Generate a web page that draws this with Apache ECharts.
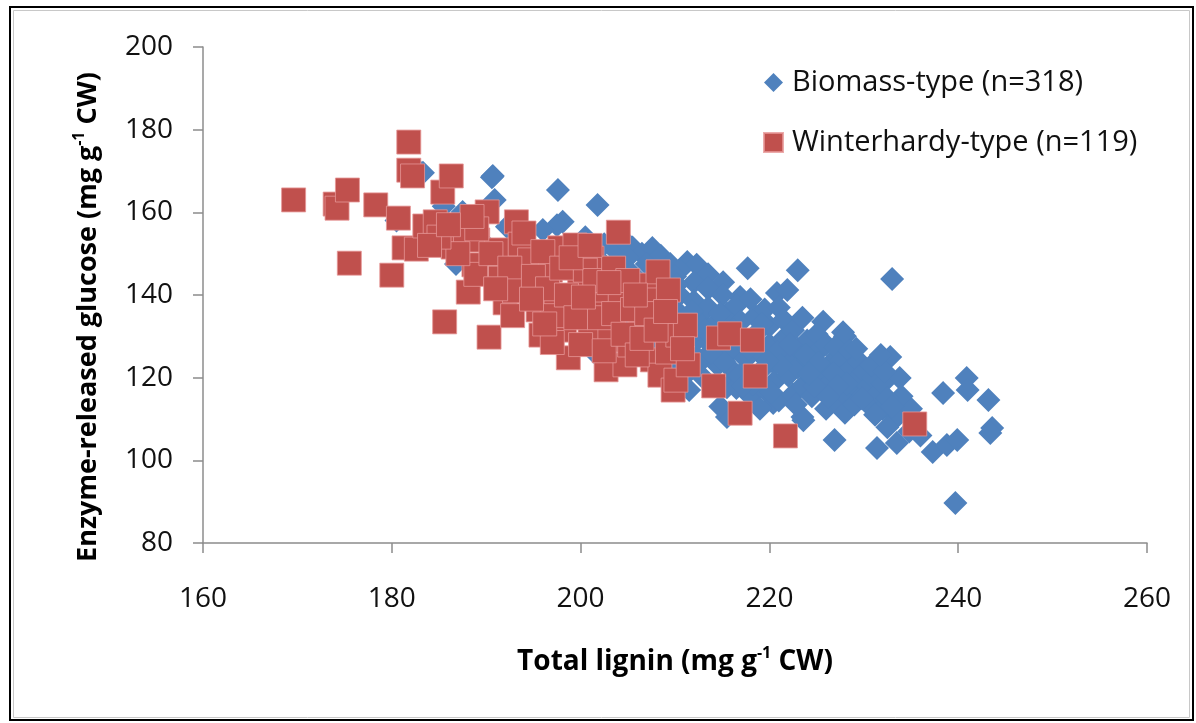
<!DOCTYPE html>
<html>
<head>
<meta charset="utf-8">
<title>Glucose vs lignin</title>
<script src="https://cdn.jsdelivr.net/npm/echarts@6/dist/echarts.min.js"></script>
<style>
  html, body { margin: 0; padding: 0; background: #fff; }
  #chart { width: 1196px; height: 723px; }
</style>
</head>
<body>
<div id="chart"></div>
<script>
// axis ticks
const xTicks = [160, 180, 200, 220, 240, 260]
const yTicks = [80, 100, 120, 140, 160, 180, 200]

const legendNames = ['Biomass-type (n=318)', 'Winterhardy-type (n=119)']

// biomass-type genotypes: [total lignin, released glucose]
const biomass = [
  [182.8, 170.2], [183.3, 169.6], [190.7, 168.8], [190.9, 163.0], [187.5, 160.1], [188.0, 158.8],
  [197.6, 165.4], [201.8, 161.8], [198.1, 157.7], [197.5, 156.9], [196.0, 155.7], [190.6, 168.5],
  [180.5, 158.0], [185.5, 161.5], [192.2, 156.5], [194.5, 151.5], [189.8, 152.5], [186.8, 147.5],
  [193.5, 146.0], [195.5, 147.5], [199.0, 150.0], [200.5, 154.0], [202.5, 152.3], [203.8, 150.5],
  [204.5, 153.5], [205.5, 151.5], [206.5, 150.0], [207.6, 151.4], [208.5, 149.5], [209.5, 147.5],
  [211.3, 148.0], [212.3, 147.3], [210.5, 146.0], [209.0, 144.0], [213.5, 145.0], [215.1, 143.1],
  [216.9, 139.5], [217.7, 146.5], [220.8, 140.5], [221.9, 141.2], [223.0, 146.0], [233.0, 143.9],
  [225.7, 133.5], [227.8, 131.0], [228.0, 130.0], [232.8, 125.0], [233.8, 119.9], [238.4, 116.3],
  [240.9, 119.9], [241.0, 117.0], [243.2, 114.6], [243.6, 107.8], [243.4, 106.6], [226.9, 104.9],
  [231.4, 103.0], [233.5, 104.2], [237.3, 102.0], [238.8, 103.7], [239.9, 104.9], [239.7, 89.7],
  [223.6, 109.7], [215.5, 110.5], [223.5, 110.5], [220.4, 113.9], [215.5, 117.7], [212.3, 125.0],
  [235.0, 112.5], [234.0, 115.5], [233.5, 110.5], [232.5, 108.0], [234.8, 107.0], [236.0, 106.0],
  // dense band
  [199.5, 146.0], [200.0, 141.0], [200.5, 136.0], [201.0, 131.0], [201.5, 126.0], [202.0, 148.5],
  [202.0, 144.0], [202.5, 139.0], [203.0, 134.0], [203.0, 129.0], [203.5, 124.0], [204.0, 147.0],
  [204.0, 142.5], [204.5, 137.5], [204.5, 132.5], [204.8, 127.5],
  [205.0, 149.0], [205.5, 145.0], [205.5, 140.0], [206.0, 135.0], [206.0, 130.0], [206.5, 125.5],
  [207.0, 147.5], [207.0, 143.0], [207.5, 138.0], [207.5, 133.0], [208.0, 128.0], [208.0, 123.0],
  [208.5, 146.0], [208.5, 141.5], [209.0, 137.0], [209.0, 132.0], [209.5, 127.5], [209.5, 122.5],
  [209.8, 118.0],
  [210.0, 144.5], [210.5, 140.0], [210.5, 135.5], [211.0, 131.0], [211.0, 126.0], [211.5, 121.5],
  [211.5, 117.0], [212.0, 143.0], [212.0, 138.5], [212.5, 134.0], [212.5, 129.5], [213.0, 124.5],
  [213.0, 120.0], [213.5, 141.5], [213.5, 137.0], [214.0, 132.5], [214.0, 127.5], [214.5, 123.0],
  [214.5, 118.5], [214.8, 113.0],
  [215.0, 140.0], [215.5, 135.5], [215.5, 131.0], [216.0, 126.5], [216.0, 122.0], [216.5, 117.5],
  [216.5, 137.5], [217.0, 133.5], [217.0, 129.0], [217.5, 124.5], [217.5, 120.0], [218.0, 115.5],
  [218.0, 139.0], [218.5, 135.0], [218.5, 130.5], [219.0, 126.0], [219.0, 121.5], [219.5, 117.0],
  [219.5, 136.5], [219.0, 112.5],
  [220.0, 132.5], [220.0, 128.0], [220.5, 123.5], [220.5, 119.0], [221.0, 137.0], [221.0, 114.5],
  [221.5, 134.0], [221.5, 129.5], [222.0, 125.0], [222.0, 120.5], [222.5, 116.0], [222.5, 131.5],
  [223.0, 127.0], [223.0, 122.5], [223.5, 118.0], [223.5, 134.5], [224.0, 129.0], [224.0, 124.5],
  [224.5, 120.0], [224.5, 115.5],
  [225.0, 130.5], [225.0, 126.0], [225.5, 121.5], [225.5, 117.0], [226.0, 112.5], [226.0, 128.0],
  [226.5, 123.5], [226.5, 119.0], [227.0, 114.5], [227.0, 127.5], [227.5, 124.0], [227.5, 120.0],
  [228.0, 116.0], [228.0, 111.5], [228.5, 126.5], [228.5, 122.0], [229.0, 118.0], [229.0, 113.5],
  [229.5, 124.0], [229.5, 120.0],
  [230.0, 116.0], [230.0, 121.5], [230.5, 118.0], [230.5, 113.5], [231.0, 120.0], [231.5, 116.5],
  [232.0, 112.5], [232.0, 118.5], [232.5, 115.0], [233.0, 113.0],
  [210.2, 142.5], [211.8, 136.0], [213.2, 131.5], [214.8, 135.5], [216.2, 131.5], [217.8, 127.0],
  [219.2, 133.0], [220.8, 126.0], [222.2, 128.0], [223.8, 125.5], [225.2, 123.5], [226.8, 121.0],
  [228.2, 118.5], [229.8, 115.0], [231.2, 111.0], [224.8, 118.0], [222.8, 113.5], [220.2, 116.5],
  [218.2, 118.5], [216.8, 120.5], [215.2, 124.0], [213.8, 126.0], [212.2, 123.0], [210.8, 124.0],
  [211.2, 129.0], [208.8, 130.5], [207.2, 127.0], [206.2, 132.0], [205.2, 138.0], [203.8, 140.5],
  [227.2, 118.0], [226.2, 115.5], [224.2, 121.0], [221.2, 123.0], [219.8, 124.0], [217.2, 118.0],
  [230.8, 123.0], [232.2, 121.5], [229.2, 127.0], [231.8, 125.5]
]

// winterhardy-type genotypes
const winterhardy = [
  [169.6, 163.0], [174.0, 162.0], [174.2, 161.0], [175.3, 165.4], [175.5, 147.7], [178.3, 161.8],
  [180.0, 144.8], [180.7, 158.6], [181.8, 177.0], [181.8, 170.2], [182.2, 168.8], [181.3, 151.4],
  [182.6, 151.1], [183.5, 156.7], [184.6, 157.7], [185.4, 164.9], [186.3, 168.8], [185.6, 133.5],
  [186.5, 151.6], [187.3, 155.2], [187.8, 153.5], [188.1, 140.7], [188.7, 147.3], [188.9, 145.0],
  [190.3, 129.8], [190.1, 160.1], [189.1, 153.3], [191.1, 150.9], [191.5, 144.1], [192.0, 138.1],
  [193.2, 157.7], [193.6, 152.3], [194.6, 148.5], [194.1, 141.2], [195.5, 136.4], [195.8, 130.3],
  [196.8, 146.0], [197.4, 139.3], [197.8, 151.4], [198.7, 124.8], [198.3, 131.5], [199.1, 137.6],
  [199.4, 152.1], [199.9, 143.1], [201.0, 131.5], [201.2, 148.9], [201.8, 138.8], [202.7, 121.9],
  [202.5, 141.2], [203.1, 129.1], [204.0, 155.2], [204.2, 138.8], [204.7, 123.1], [205.2, 127.9],
  [206.3, 133.9], [206.8, 142.4], [207.6, 124.3], [207.9, 138.8], [208.2, 145.6], [208.4, 120.6],
  [209.2, 126.2], [209.3, 141.2], [209.8, 117.0], [210.1, 119.4], [210.3, 130.3], [211.1, 132.7],
  [211.4, 123.1], [214.1, 118.0], [214.6, 129.6], [215.8, 130.6], [216.9, 111.4], [218.2, 129.1],
  [218.5, 120.4], [221.7, 105.9], [235.4, 108.8],
  [189.0, 156.0], [190.5, 150.0], [192.5, 146.5], [193.0, 141.0], [194.0, 155.0], [195.0, 144.5],
  [196.0, 150.5], [196.5, 141.5], [197.0, 135.0], [198.0, 146.5], [198.5, 140.0], [199.5, 134.5],
  [200.0, 128.0], [200.5, 146.0], [201.5, 143.5], [202.0, 134.5], [202.5, 126.5], [203.5, 146.5],
  [203.5, 135.5], [204.5, 130.5], [205.0, 143.5], [205.5, 136.5], [206.0, 125.5], [206.5, 129.5],
  [207.0, 135.5], [208.0, 131.5], [200.3, 139.5], [197.0, 128.5], [192.8, 135.0], [194.8, 139.0],
  [191.0, 141.5], [187.0, 150.0], [188.5, 159.0], [185.0, 154.0], [184.0, 152.0], [186.0, 157.0],
  [209.0, 136.0], [210.8, 127.0], [203.0, 143.0], [199.0, 149.0], [196.2, 133.0], [201.0, 152.0],
  [205.8, 140.0]
]

const FONT = 'Open Sans'
const BLUE = '#4F81BD'
const RED = '#C0504D'
const AXIS_GREY = '#8c8c8c'

const chart = echarts.init(document.getElementById('chart'), null, { renderer: 'canvas' })

// rich text pieces for "(mg g-1 CW)" with a raised -1
const richFor = (size) => ({
  a: { fontFamily: FONT, fontWeight: 'bold', fontSize: size, lineHeight: 34, color: '#000' },
  s: { fontFamily: FONT, fontWeight: 'bold', fontSize: 16, lineHeight: 19, verticalAlign: 'top', color: '#000' }
})

chart.setOption({
  backgroundColor: '#fff',
  animation: false,
  grid: { left: 203, right: 49, top: 47, bottom: 180, containLabel: false },
  legend: {
    orient: 'vertical',
    left: 758,
    top: 61,
    itemWidth: 19,
    itemHeight: 19,
    itemGap: 27,
    data: [
      { name: legendNames[0], icon: 'diamond' },
      { name: legendNames[1], icon: 'rect' }
    ],
    textStyle: { fontFamily: FONT, fontSize: 29, color: '#111', lineHeight: 33, padding: [0, 0, 0, 4] }
  },
  xAxis: {
    type: 'value',
    min: xTicks[0],
    max: xTicks[xTicks.length - 1],
    interval: 20,
    axisLine: { show: true, lineStyle: { color: AXIS_GREY, width: 1.5 } },
    axisTick: { show: true, inside: false, length: 10, lineStyle: { color: AXIS_GREY, width: 1.5 } },
    axisLabel: { margin: 42, fontFamily: FONT, fontSize: 28, color: '#111' },
    splitLine: { show: false }
  },
  yAxis: {
    type: 'value',
    min: yTicks[0],
    max: yTicks[yTicks.length - 1],
    interval: 20,
    axisLine: { show: true, lineStyle: { color: AXIS_GREY, width: 1.5 } },
    axisTick: { show: true, inside: false, length: 10, lineStyle: { color: AXIS_GREY, width: 1.5 } },
    axisLabel: { margin: 30, fontFamily: FONT, fontSize: 28, color: '#111' },
    splitLine: { show: false }
  },
  series: [
    {
      name: legendNames[0],
      type: 'scatter',
      symbol: 'diamond',
      symbolSize: 24,
      itemStyle: { color: BLUE, opacity: 1 },
      data: biomass
    },
    {
      name: legendNames[1],
      type: 'scatter',
      symbol: 'rect',
      symbolSize: 24,
      itemStyle: { color: RED, opacity: 1, borderColor: 'rgba(230,150,150,0.8)', borderWidth: 1 },
      data: winterhardy
    }
  ],
  graphic: [
    // frame round the picture
    { type: 'rect', shape: { x: 10, y: 7, width: 1183, height: 713 },
      style: { fill: 'none', stroke: '#000', lineWidth: 2 }, silent: true },
    { type: 'rect', shape: { x: 13.5, y: 10.5, width: 1176, height: 707 },
      style: { fill: 'none', stroke: '#c8c8c8', lineWidth: 1 }, silent: true },
    // axis titles
    { type: 'text', x: 675, y: 662,
      style: { text: '{a|Total lignin (mg g}{s|-1}{a| CW)}', rich: richFor(28), align: 'center', verticalAlign: 'middle' } },
    { type: 'text', x: 88, y: 317, rotation: Math.PI / 2,
      style: { text: '{a|Enzyme-released glucose (mg g}{s|-1}{a| CW)}', rich: richFor(27), align: 'center', verticalAlign: 'middle' } }
  ]
})
</script>
</body>
</html>
